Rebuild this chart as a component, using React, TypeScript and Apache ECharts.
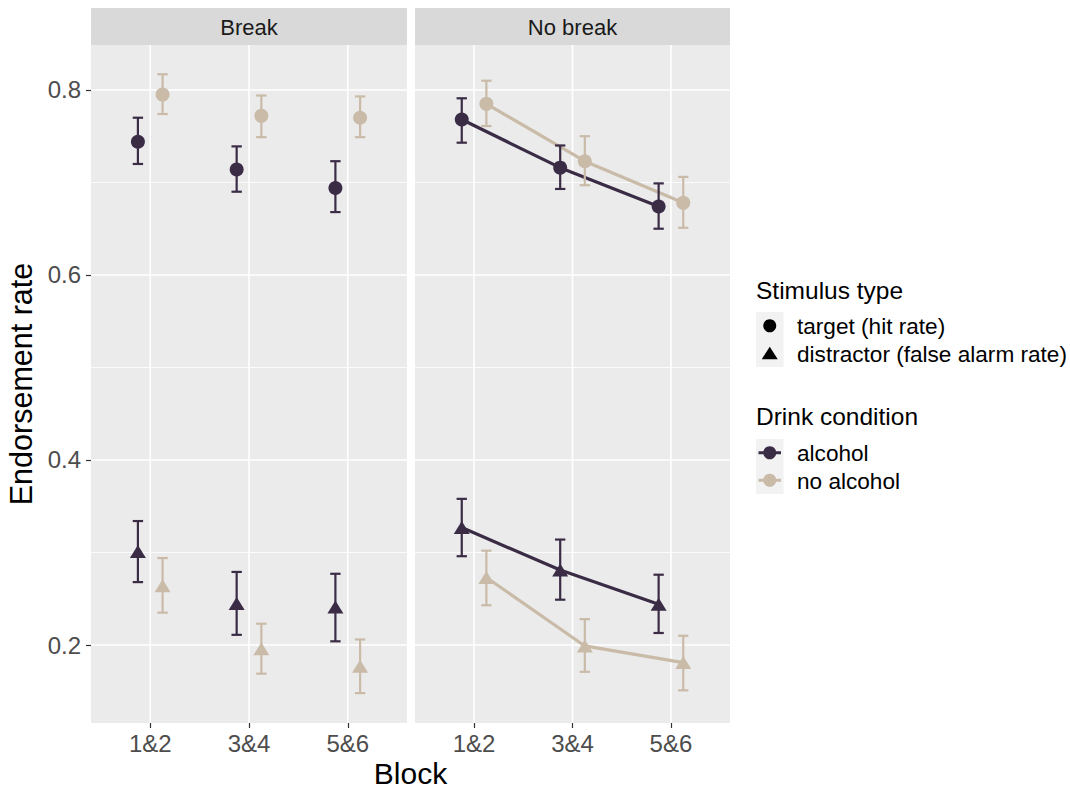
import React, { useEffect, useRef } from "react";
import * as echarts from "echarts";

const categories = ["1&2", "3&4", "5&6"];
const panels = ["Break", "No break"];
const drinks = ["alcohol", "no alcohol"];
const stimuli = ["target (hit rate)", "distractor (false alarm rate)"];
const yTicks = [0.2, 0.4, 0.6, 0.8];
const yMinor = [0.3, 0.5, 0.7];

// Break panel
const breakTargetAlcMean = [0.744, 0.714, 0.694];
const breakTargetAlcLo = [0.72, 0.69, 0.668];
const breakTargetAlcHi = [0.77, 0.739, 0.723];
const breakTargetNoMean = [0.795, 0.772, 0.77];
const breakTargetNoLo = [0.774, 0.749, 0.749];
const breakTargetNoHi = [0.817, 0.794, 0.793];
const breakDistAlcMean = [0.301, 0.245, 0.241];
const breakDistAlcLo = [0.268, 0.211, 0.204];
const breakDistAlcHi = [0.334, 0.279, 0.277];
const breakDistNoMean = [0.264, 0.196, 0.177];
const breakDistNoLo = [0.235, 0.169, 0.148];
const breakDistNoHi = [0.294, 0.223, 0.206];

// No break panel
const noBreakTargetAlcMean = [0.768, 0.716, 0.674];
const noBreakTargetAlcLo = [0.743, 0.693, 0.65];
const noBreakTargetAlcHi = [0.791, 0.74, 0.699];
const noBreakTargetNoMean = [0.785, 0.723, 0.678];
const noBreakTargetNoLo = [0.761, 0.697, 0.651];
const noBreakTargetNoHi = [0.81, 0.75, 0.706];
const noBreakDistAlcMean = [0.327, 0.281, 0.244];
const noBreakDistAlcLo = [0.296, 0.249, 0.213];
const noBreakDistAlcHi = [0.358, 0.314, 0.276];
const noBreakDistNoMean = [0.273, 0.199, 0.181];
const noBreakDistNoLo = [0.243, 0.171, 0.151];
const noBreakDistNoHi = [0.302, 0.228, 0.21];

const COLORS = ["#3b2c46", "#c9bba8"];
const DODGE = [-0.125, 0.125];
const X_MIN = 0.4;
const X_MAX = 3.6;
const Y_MIN = 0.1157;
const Y_MAX = 0.8486;
const FONT = "'Liberation Sans', Arial, sans-serif";

type Group = { panel: number; drink: number; stim: number; mean: number[]; lo: number[]; hi: number[] };

const groups: Group[] = [
  { panel: 0, drink: 0, stim: 0, mean: breakTargetAlcMean, lo: breakTargetAlcLo, hi: breakTargetAlcHi },
  { panel: 0, drink: 1, stim: 0, mean: breakTargetNoMean, lo: breakTargetNoLo, hi: breakTargetNoHi },
  { panel: 0, drink: 0, stim: 1, mean: breakDistAlcMean, lo: breakDistAlcLo, hi: breakDistAlcHi },
  { panel: 0, drink: 1, stim: 1, mean: breakDistNoMean, lo: breakDistNoLo, hi: breakDistNoHi },
  { panel: 1, drink: 0, stim: 0, mean: noBreakTargetAlcMean, lo: noBreakTargetAlcLo, hi: noBreakTargetAlcHi },
  { panel: 1, drink: 1, stim: 0, mean: noBreakTargetNoMean, lo: noBreakTargetNoLo, hi: noBreakTargetNoHi },
  { panel: 1, drink: 0, stim: 1, mean: noBreakDistAlcMean, lo: noBreakDistAlcLo, hi: noBreakDistAlcHi },
  { panel: 1, drink: 1, stim: 1, mean: noBreakDistNoMean, lo: noBreakDistNoLo, hi: noBreakDistNoHi },
];

const GRIDS = [
  { left: 91, top: 45, width: 316, height: 678 },
  { left: 415, top: 45, width: 315, height: 678 },
];

export default function App() {
  const ref = useRef<HTMLDivElement>(null);
  useEffect(() => {
    document.body.style.margin = "0";
    const chart = echarts.init(ref.current!, null, { renderer: "svg" });

    const series: any[] = [];
    panels.forEach((_, p) => {
      const gridData: number[][] = [];
      yTicks.forEach((v) => gridData.push([0, v, 1]));
      yMinor.forEach((v) => gridData.push([0, v, 0]));
      categories.forEach((_, i) => gridData.push([1, i + 1, 1]));
      series.push({
        type: "custom",
        xAxisIndex: p,
        yAxisIndex: p,
        z: 1,
        silent: true,
        clip: false,
        data: gridData,
        renderItem: (params: any, api: any) => {
          const o = api.value(0);
          const v = api.value(1);
          const major = api.value(2);
          let a, b;
          if (o === 0) {
            a = api.coord([X_MIN, v]);
            b = api.coord([X_MAX, v]);
          } else {
            a = api.coord([v, Y_MIN]);
            b = api.coord([v, Y_MAX]);
          }
          return {
            type: "line",
            shape: { x1: a[0], y1: a[1], x2: b[0], y2: b[1] },
            style: { stroke: "#ffffff", lineWidth: major ? 1.6 : 0.8 },
          };
        },
      });
    });

    groups.forEach((g) => {
      const xs = categories.map((_, i) => i + 1 + DODGE[g.drink]);
      const color = COLORS[g.drink];
      if (g.panel === 1) {
        series.push({
          type: "line",
          xAxisIndex: 1,
          yAxisIndex: 1,
          z: 2,
          silent: true,
          showSymbol: false,
          symbol: "none",
          data: xs.map((x, i) => [x, g.mean[i]]),
          lineStyle: { color, width: 3.2 },
        });
      }
      series.push({
        type: "custom",
        xAxisIndex: g.panel,
        yAxisIndex: g.panel,
        z: 3,
        silent: true,
        data: xs.map((x, i) => [x, g.lo[i], g.hi[i]]),
        encode: { x: 0, y: [1, 2] },
        renderItem: (params: any, api: any) => {
          const x = api.value(0);
          const pl = api.coord([x, api.value(1)]);
          const ph = api.coord([x, api.value(2)]);
          const hw = api.size([0.105, 0])[0] / 2;
          const st = { stroke: color, lineWidth: 2.2 };
          return {
            type: "group",
            children: [
              { type: "line", shape: { x1: pl[0], y1: pl[1], x2: ph[0], y2: ph[1] }, style: st },
              { type: "line", shape: { x1: pl[0] - hw, y1: pl[1], x2: pl[0] + hw, y2: pl[1] }, style: st },
              { type: "line", shape: { x1: ph[0] - hw, y1: ph[1], x2: ph[0] + hw, y2: ph[1] }, style: st },
            ],
          };
        },
      });
      series.push({
        type: "scatter",
        xAxisIndex: g.panel,
        yAxisIndex: g.panel,
        z: 4,
        silent: true,
        symbol: g.stim === 0 ? "circle" : "triangle",
        symbolSize: g.stim === 0 ? 14 : [16, 13],
        itemStyle: { color, opacity: 1 },
        data: xs.map((x, i) => [x, g.mean[i]]),
      });
    });

    const xAxes = GRIDS.map((_, p) => ({
      type: "value",
      gridIndex: p,
      min: X_MIN,
      max: X_MAX,
      axisLine: { show: false },
      splitLine: { show: false },
      axisTick: {
        show: true,
        customValues: [1, 2, 3],
        length: 5,
        lineStyle: { color: "#333333", width: 1.2 },
      },
      axisLabel: {
        show: true,
        customValues: [1, 2, 3],
        formatter: (v: number) => categories[Math.round(v) - 1] ?? "",
        color: "#4d4d4d",
        fontSize: 24,
        fontFamily: FONT,
        margin: 8,
      },
    }));

    const yAxes = GRIDS.map((_, p) => ({
      type: "value",
      gridIndex: p,
      min: Y_MIN,
      max: Y_MAX,
      axisLine: { show: false },
      splitLine: { show: false },
      axisTick: {
        show: p === 0,
        customValues: yTicks,
        length: 5,
        lineStyle: { color: "#333333", width: 1.2 },
      },
      axisLabel: {
        show: p === 0,
        customValues: yTicks,
        formatter: (v: number) => v.toFixed(1),
        color: "#4d4d4d",
        fontSize: 24,
        fontFamily: FONT,
        margin: 10,
      },
      name: p === 0 ? "Endorsement rate" : "",
      nameLocation: "middle",
      nameRotate: 90,
      nameGap: 55,
      nameTextStyle: { fontSize: 30.5, color: "#000000", fontFamily: FONT },
    }));

    const graphics: any[] = [];
    GRIDS.forEach((g, p) => {
      graphics.push({
        type: "rect",
        shape: { x: g.left, y: 8, width: g.width, height: 37 },
        style: { fill: "#d9d9d9" },
        silent: true,
      });
      graphics.push({
        type: "text",
        style: {
          text: panels[p],
          x: g.left + g.width / 2,
          y: 27,
          align: "center",
          verticalAlign: "middle",
          textAlign: "center",
          textVerticalAlign: "middle",
          fontSize: 22,
          fontFamily: FONT,
          fill: "#1a1a1a",
        },
        silent: true,
      });
    });
    graphics.push({
      type: "text",
      style: {
        text: "Block",
        x: 410.5,
        y: 773,
        align: "center",
        verticalAlign: "middle",
        textAlign: "center",
        textVerticalAlign: "middle",
        fontSize: 30,
        fontFamily: FONT,
        fill: "#000000",
      },
      silent: true,
    });

    const textStyle = (text: string, x: number, y: number, size: number) => ({
      type: "text",
      silent: true,
      style: {
        text,
        x,
        y,
        align: "left",
        verticalAlign: "middle",
        textAlign: "left",
        textVerticalAlign: "middle",
        fontSize: size,
        fontFamily: FONT,
        fill: "#000000",
      },
    });

    // Legend: stimulus type
    graphics.push(textStyle("Stimulus type", 756, 290, 24.5));
    graphics.push({ type: "rect", silent: true, shape: { x: 756, y: 312, width: 27.5, height: 55 }, style: { fill: "#f2f2f2" } });
    const kx = 769.75;
    const stimY = [325.75, 353.25];
    graphics.push({ type: "circle", silent: true, shape: { cx: kx, cy: stimY[0], r: 6.5 }, style: { fill: "#000000" } });
    graphics.push({
      type: "polygon",
      silent: true,
      shape: { points: [[kx, stimY[1] - 6.5], [kx + 8, stimY[1] + 6], [kx - 8, stimY[1] + 6]] },
      style: { fill: "#000000" },
    });
    stimuli.forEach((s, i) => graphics.push(textStyle(s, 797, stimY[i] + 1, 22.6)));

    // Legend: drink condition
    graphics.push(textStyle("Drink condition", 756, 416, 24.5));
    graphics.push({ type: "rect", silent: true, shape: { x: 756, y: 439, width: 27.5, height: 55 }, style: { fill: "#f2f2f2" } });
    const drinkY = [452.75, 480.25];
    drinks.forEach((d, i) => {
      graphics.push({
        type: "line",
        silent: true,
        shape: { x1: 758.5, y1: drinkY[i], x2: 781, y2: drinkY[i] },
        style: { stroke: COLORS[i], lineWidth: 3 },
      });
      graphics.push({ type: "circle", silent: true, shape: { cx: kx, cy: drinkY[i], r: 6.5 }, style: { fill: COLORS[i] } });
      graphics.push(textStyle(d, 797, drinkY[i] + 1, 22.6));
    });

    chart.setOption({
      animation: false,
      backgroundColor: "#ffffff",
      grid: GRIDS.map((g) => ({
        ...g,
        show: true,
        backgroundColor: "#ebebeb",
        borderWidth: 0,
        containLabel: false,
      })),
      xAxis: xAxes,
      yAxis: yAxes,
      series,
      graphic: graphics,
    });
    return () => chart.dispose();
  }, []);
  return <div ref={ref} style={{ width: 1070, height: 791 }} />;
}
